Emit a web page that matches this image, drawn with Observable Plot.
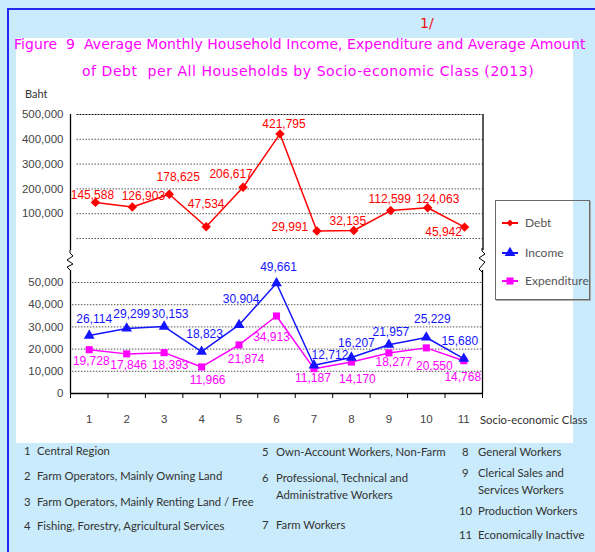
<!DOCTYPE html>
<html><head><meta charset="utf-8">
<script src="https://cdn.jsdelivr.net/npm/d3@7"></script>
<script src="https://cdn.jsdelivr.net/npm/@observablehq/plot@0.6"></script>
<style>
html,body{margin:0;padding:0;}
body{width:595px;height:552px;overflow:hidden;background:#c9ebfb;}
#root{position:relative;width:595px;height:552px;}
.abs{position:absolute;white-space:pre;}
.title{font-family:"DejaVu Sans",sans-serif;font-size:14px;color:#ff00ff;line-height:1;}
.note{font-family:"Lato",sans-serif;font-size:11.3px;color:#333;line-height:17px;}
.leg{font-family:"Lato",sans-serif;font-size:12px;color:#555;line-height:1;}
svg{overflow:visible;}
</style></head><body><div id="root"></div>
<script>
// ---- data ----
const classes = [1, 2, 3, 4, 5, 6, 7, 8, 9, 10, 11];
const debt = [145588, 126903, 178625, 47534, 206617, 421795, 29991, 32135, 112599, 124063, 45942];
const income = [26114, 29299, 30153, 18823, 30904, 49661, 12712, 16207, 21957, 25229, 15680];
const expenditure = [19728, 17846, 18393, 11966, 21874, 34913, 11187, 14170, 18277, 20550, 14768];
const upperTicks = [100000, 200000, 300000, 400000, 500000];
const upperGrid = [0, 100000, 200000, 300000, 400000];
const lowerTicks = [0, 10000, 20000, 30000, 40000, 50000];
const lowerGrid = [10000, 20000, 30000, 40000, 50000];
const classNotes = [
  "Central Region", "Farm Operators, Mainly Owning Land", "Farm Operators, Mainly Renting Land / Free",
  "Fishing, Forestry, Agricultural Services", "Own-Account Workers, Non-Farm",
  "Professional, Technical and\nAdministrative Workers", "Farm Workers", "General Workers",
  "Clerical Sales and\nServices Workers", "Production Workers", "Economically Inactive"
];
const seriesNames = ["Debt", "Income", "Expenditure"];

// ---- label offsets (style) ----
const debtOff = [[-3,-7],[11,-11],[9,-17],[0,-23],[-12,-13],[4,-10],[-27,-4],[-6,-9],[-1,-11],[10,-9],[-21,5]];
const incOff = [[5,-16],[5,-14],[6,-12],[3,-18],[2,-26],[2,-16],[16,-10],[5,-14],[2,-13],[6,-18],[-4,-18]];
const expOff = [[2,11],[2,11],[6,12],[6,13],[7,14],[-5,21],[-1,9],[6,17],[5,9],[8,18],[-1,16]];

const RED = "#ff0000", BLUE = "#1414ff", MAG = "#ff00ff";
const fmt = d3.format(",");
const root = document.getElementById("root");

function add(html, style, cls) {
  const d = document.createElement("div");
  d.className = "abs " + (cls || "");
  d.style.cssText += style;
  d.innerHTML = html;
  root.appendChild(d);
  return d;
}

// frame & white panel
add("", "left:7px;top:8px;width:588px;height:2px;background:#2626ee;");
add("", "left:7px;top:8px;width:2px;height:544px;background:#2626ee;");
add("", "left:16px;top:38px;width:557px;height:405px;background:#fff;");

// titles
add("1/", "left:420px;top:15px;font-family:'DejaVu Sans';font-size:14px;color:#ee1111;");
add("Figure  9  Average Monthly Household Income, Expenditure and Average Amount", "left:14px;top:37px;letter-spacing:0.05px;", "title");
add("of Debt  per All Households by Socio-economic Class (2013)", "left:82px;top:64px;letter-spacing:0.55px;", "title");
add("Baht", "left:25px;top:87px;font-family:'Lato';font-size:11px;color:#333;");

const rows = classes.map((c, i) => ({c, debt: debt[i], income: income[i], exp: expenditure[i]}));
const numStyle = {fontFamily: "Liberation Sans, Arial, sans-serif", fontSize: "11.5px", color: "#444", background: "transparent", overflow: "visible"};

// ---- upper panel (Debt) ----
const upperX = [0.324, 11.5];
const upper = Plot.plot({
  width: 500, height: 160,
  marginLeft: 70, marginRight: 17.5, marginTop: 14, marginBottom: 10,
  x: {type: "linear", domain: upperX, axis: null},
  y: {domain: [-48400, 500000], axis: null},
  style: numStyle,
  marks: [
    Plot.ruleY(upperGrid, {x1: 0.5, x2: 11.5, stroke: "#555", strokeDasharray: "1.5,1.5"}),
    Plot.ruleY([500000], {x1: 0.5, x2: 11.5, stroke: "#111", strokeDasharray: "2,1"}),
    Plot.ruleX([upperX[0]], {stroke: "#000", strokeWidth: 1.3}),
    Plot.ruleX([upperX[1]], {stroke: "#000", strokeWidth: 1.3}),
    Plot.axisY(upperTicks, {tickSize: 0, tickPadding: 7, tickFormat: fmt, label: null, fontSize: 11.5}),
    Plot.line(rows, {x: "c", y: "debt", stroke: RED, strokeWidth: 1.5}),
    Plot.dot(rows, {x: "c", y: "debt", symbol: "diamond2", r: 3.3, fill: RED, stroke: RED}),
    ...rows.map((d, i) => Plot.text([d], {x: "c", y: "debt", text: r => fmt(r.debt), fill: RED, fontSize: 12, dx: debtOff[i][0], dy: debtOff[i][1]}))
  ]
});
upper.style.position = "absolute"; upper.style.left = "0px"; upper.style.top = "100px";
root.appendChild(upper);

// ---- lower panel (Income / Expenditure) ----
const lowerX = [0.5, 11.5];
const lowerYMax = 55400;
const bounds = d3.range(0.5, 12, 1);
const lower = Plot.plot({
  width: 500, height: 200,
  marginLeft: 70, marginRight: 18, marginTop: 30, marginBottom: 47,
  x: {type: "linear", domain: lowerX, axis: null},
  y: {domain: [0, lowerYMax], axis: null},
  style: numStyle,
  marks: [
    Plot.ruleY(lowerGrid, {x1: 0.55, x2: 11.5, stroke: "#555", strokeDasharray: "1.5,1.5"}),
    Plot.ruleX([lowerX[0]], {stroke: "#000", strokeWidth: 1.3}),
    Plot.ruleX([lowerX[1]], {stroke: "#000", strokeWidth: 1.3}),
    Plot.ruleY([0], {stroke: "#000", strokeWidth: 1.5}),
    Plot.axisX(bounds, {tickSize: 5, tickFormat: () => "", label: null, stroke: "#000"}),
    Plot.axisX(classes, {tickSize: 0, tickPadding: 21, label: null, fontSize: 11.5}),
    Plot.axisY(lowerTicks, {tickSize: 0, tickPadding: 7, tickFormat: fmt, label: null, fontSize: 11.5}),
    Plot.line(rows, {x: "c", y: "exp", stroke: MAG, strokeWidth: 1.5}),
    Plot.line(rows, {x: "c", y: "income", stroke: BLUE, strokeWidth: 1.5}),
    Plot.dot(rows, {x: "c", y: "exp", symbol: "square", r: 4, fill: MAG}),
    Plot.dot(rows, {x: "c", y: "income", symbol: "triangle", r: 4, fill: BLUE}),
    ...rows.map((d, i) => Plot.text([d], {x: "c", y: "income", text: r => fmt(r.income), fill: BLUE, fontSize: 12, dx: incOff[i][0], dy: incOff[i][1]})),
    ...rows.map((d, i) => Plot.text([d], {x: "c", y: "exp", text: r => fmt(r.exp), fill: MAG, fontSize: 12, dx: expOff[i][0], dy: expOff[i][1]}))
  ]
});
lower.style.position = "absolute"; lower.style.left = "0px"; lower.style.top = "240px";
root.appendChild(lower);

// axis break marks
const brk = (x, y0, y1) => `M${x},${y0} L${x},${y0+3} L${x+3},${y0+6} L${x-3},${y0+10} L${x+3},${y0+14} L${x-3},${y1-3} L${x},${y1}`;
const ns = "http://www.w3.org/2000/svg";
const bsvg = document.createElementNS(ns, "svg");
bsvg.setAttribute("width", 595); bsvg.setAttribute("height", 552);
bsvg.style.cssText = "position:absolute;left:0;top:0;pointer-events:none;";
bsvg.innerHTML = `<path d="${brk(70, 250, 270)}" fill="none" stroke="#000" stroke-width="1"/>
<path d="${brk(482, 248, 272)}" fill="none" stroke="#000" stroke-width="1"/>`;
root.appendChild(bsvg);

add("Socio-economic Class", "left:480px;top:411px;", "note");

// legend
const leg = add("", "left:495px;top:200px;width:93px;height:98px;border:1px solid #6a6a6a;box-shadow:1px 1px 0 #aaa;");
const legSym = [[RED, d3.symbolDiamond2, 30], [BLUE, d3.symbolTriangle, 50], [MAG, d3.symbolSquare, 50]];
const legY = [22, 52, 80];
seriesNames.forEach((n, i) => {
  const [col, sym, size] = legSym[i];
  const p = d3.symbol(sym, size)();
  const s = document.createElementNS(ns, "svg");
  s.setAttribute("width", 20); s.setAttribute("height", 12);
  s.style.cssText = `position:absolute;left:6px;top:${legY[i]-6}px;`;
  s.innerHTML = `<line x1="0" x2="16" y1="6" y2="6" stroke="${col}" stroke-width="2"/><path d="${p}" transform="translate(8,6)" fill="${col}"/>`;
  leg.appendChild(s);
  const t = document.createElement("div");
  t.className = "abs leg"; t.textContent = n;
  t.style.cssText += `left:29px;top:${legY[i]-6}px;`;
  leg.appendChild(t);
});

// class notes
const notePos = [[24,37,450],[24,37,475],[24,37,501],[24,37,525],[262,276,451],[262,276,477],[262,276,524],[462,478,451],[462,478,472],[459,478,510],[459,478,534]];
classNotes.forEach((txt, i) => {
  const [xn, xt, y] = notePos[i];
  add(String(classes[i]), `left:${xn}px;top:${y-8.5}px;`, "note");
  add(txt, `left:${xt}px;top:${y-8.5}px;`, "note");
});
</script></body></html>
